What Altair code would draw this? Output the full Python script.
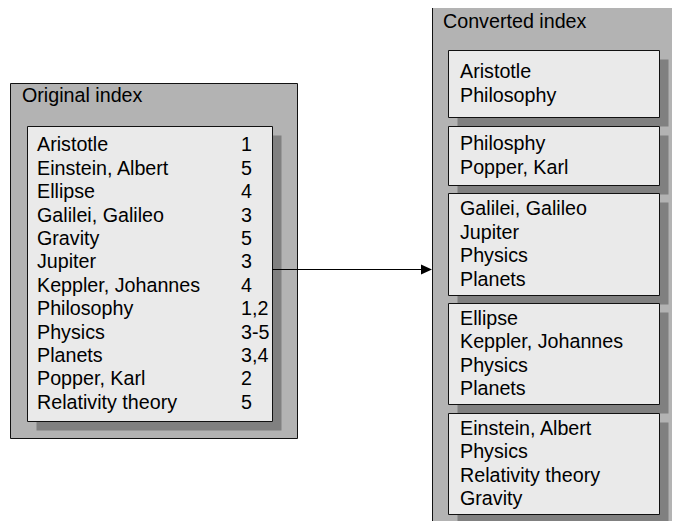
import altair as alt
import pandas as pd

# ---- content ----
left_title = "Original index"
left_terms = ["Aristotle", "Einstein, Albert", "Ellipse", "Galilei, Galileo", "Gravity",
              "Jupiter", "Keppler, Johannes", "Philosophy", "Physics", "Planets",
              "Popper, Karl", "Relativity theory"]
left_pages = ["1", "5", "4", "3", "5", "3", "4", "1,2", "3-5", "3,4", "2", "5"]

right_title = "Converted index"
right_groups = [
    ["Aristotle", "Philosophy"],
    ["Philosphy", "Popper, Karl"],
    ["Galilei, Galileo", "Jupiter", "Physics", "Planets"],
    ["Ellipse", "Keppler, Johannes", "Physics", "Planets"],
    ["Einstein, Albert", "Physics", "Relativity theory", "Gravity"],
]

# ---- layout (pixels of the page) ----
W, H, M = 680, 529, 8
PITCH = 23.4
FONT = "Liberation Sans"
FS = 19.7
SH = 9  # shadow offset

left_outer = (10, 297, 83, 438)
left_inner = (27, 272, 126, 421)
right_outer = (432, 720, 7, 580)
right_x = (448, 659)
right_boxes_y = [(50, 117), (126, 185), (193, 295), (303, 404), (413, 514)]

# the drawing area covers page pixels M..W-M, M..H-M
xs = alt.Scale(domain=[M, W - M], nice=False, zero=False)
ys = alt.Scale(domain=[M, H - M], nice=False, zero=False, reverse=True)


def rect_df(boxes):
    return pd.DataFrame([{"x": a + .5, "x2": b + .5, "y": c + .5, "y2": d + .5}
                         for a, b, c, d in boxes])


def enc_rect(ch):
    return ch.encode(
        x=alt.X("x:Q", scale=xs, axis=None), x2="x2",
        y=alt.Y("y:Q", scale=ys, axis=None), y2="y2")


outer = enc_rect(alt.Chart(rect_df([left_outer, right_outer])).mark_rect(
    fill="#b3b3b3", stroke="#111111", strokeWidth=1, clip=True))

inner_boxes = [left_inner] + [(right_x[0], right_x[1], a, b) for a, b in right_boxes_y]
shadows = enc_rect(alt.Chart(rect_df([(a + SH, b + SH, c + SH, d + SH)
                                       for a, b, c, d in inner_boxes])).mark_rect(
    fill="#808080", clip=True))
inner = enc_rect(alt.Chart(rect_df(inner_boxes)).mark_rect(
    fill="#eaeaea", stroke="#111111", strokeWidth=1, clip=True))

# text rows
rows = []
rows.append({"x": 22, "y": 102, "t": left_title})
rows.append({"x": 443, "y": 28, "t": right_title})


def baselines(top, bottom, n):
    c = (top + bottom) / 2
    return [c - (n - 1) / 2 * PITCH + 6.5 + i * PITCH for i in range(n)]


for yb, term, page in zip(baselines(left_inner[2], left_inner[3], len(left_terms)),
                          left_terms, left_pages):
    rows.append({"x": 37, "y": yb, "t": term})
    rows.append({"x": 241, "y": yb, "t": page})

for (a, b), grp in zip(right_boxes_y, right_groups):
    for yb, term in zip(baselines(a, b, len(grp)), grp):
        rows.append({"x": 460, "y": yb, "t": term})

texts = alt.Chart(pd.DataFrame(rows)).mark_text(
    align="left", baseline="alphabetic", font=FONT, fontSize=FS, color="black"
).encode(
    x=alt.X("x:Q", scale=xs, axis=None),
    y=alt.Y("y:Q", scale=ys, axis=None),
    text="t:N")

# arrow
arrow_df = pd.DataFrame([{"x": left_inner[1] + .5, "x2": 421, "y": 269.5}])
arrow_line = alt.Chart(arrow_df).mark_rule(color="black", strokeWidth=1).encode(
    x=alt.X("x:Q", scale=xs, axis=None), x2="x2",
    y=alt.Y("y:Q", scale=ys, axis=None))
head_df = pd.DataFrame([{"x": 426.5, "y": 269.5}])
arrow_head = alt.Chart(head_df).mark_point(
    shape="M-1,-0.9L1,0L-1,0.9Z", size=121, filled=True, color="black", opacity=1
).encode(
    x=alt.X("x:Q", scale=xs, axis=None),
    y=alt.Y("y:Q", scale=ys, axis=None))

chart = alt.layer(outer, shadows, inner, arrow_line, arrow_head, texts).properties(
    width=W - 2 * M, height=H - 2 * M, padding=0,
    autosize=alt.AutoSizeParams(type="none"),
    background="white",
).configure_view(strokeWidth=0)

chart.save("out.html", embed_options={"renderer": "svg", "actions": False})
